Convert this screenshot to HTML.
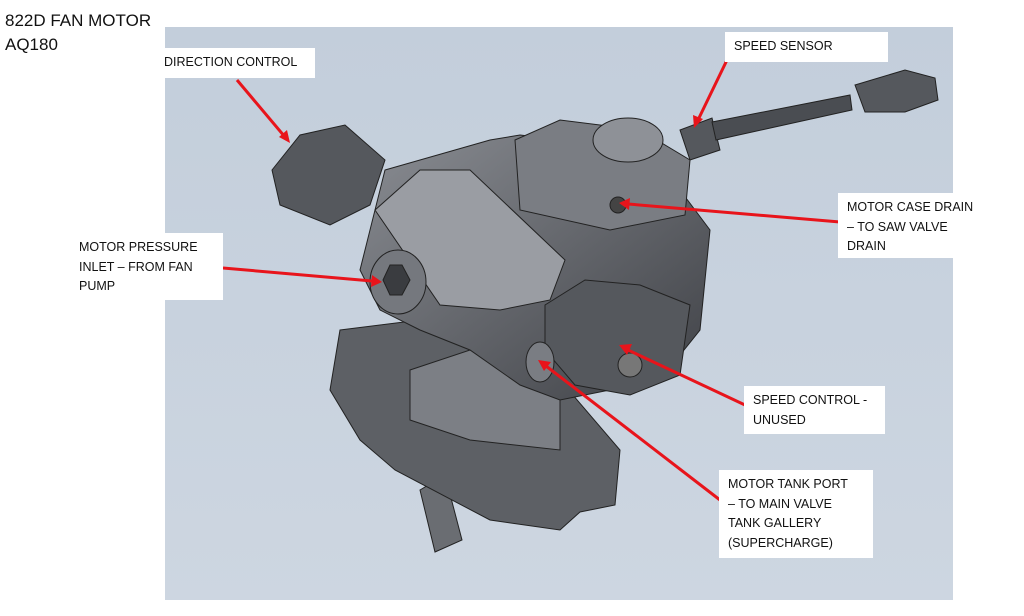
<!DOCTYPE html>
<html><head><meta charset="utf-8"><style>
body{margin:0;width:1024px;height:616px;background:#fff;position:relative;overflow:hidden;font-family:"Liberation Sans",sans-serif}
.t{position:absolute;left:5px;top:9px;font-size:17px;line-height:24px;color:#111}
.l{position:absolute;background:#fff;font-size:12.5px;line-height:19.5px;color:#111;padding:5px 9px;box-sizing:border-box}
svg{position:absolute;left:0;top:0}
</style></head><body>
<div class="t">822D FAN MOTOR<br>AQ180</div>
<svg width="1024" height="616">
<defs><linearGradient id="bg" x1="0" y1="0" x2="0" y2="1"><stop offset="0" stop-color="#c3cedb"/><stop offset="1" stop-color="#cdd6e1"/></linearGradient>
<linearGradient id="m" x1="0" y1="0" x2="1" y2="1"><stop offset="0" stop-color="#8a8d93"/><stop offset="1" stop-color="#3e4045"/></linearGradient></defs>
<rect x="165" y="27" width="788" height="573" fill="url(#bg)"/>
<g stroke="#222" stroke-width="1">
<!-- shaft -->
<polygon points="420,490 445,475 462,540 435,552" fill="#6a6d72"/>
<!-- base plate -->
<polygon points="340,330 420,320 560,380 620,450 615,505 580,512 560,530 490,520 395,470 360,440 330,390" fill="#5d6065"/>
<polygon points="410,370 470,350 560,380 560,450 470,440 410,420" fill="#7c7f85"/>
<!-- body -->
<polygon points="385,170 490,140 520,135 650,150 710,230 700,330 660,380 560,400 520,385 470,350 420,330 380,310 360,270" fill="url(#m)"/>
<polygon points="515,140 560,120 640,130 690,160 685,215 610,230 520,210" fill="#7a7d83"/>
<ellipse cx="628" cy="140" rx="35" ry="22" fill="#8e9197"/>
<!-- tube -->
<polygon points="375,210 420,170 470,170 565,260 550,300 500,310 440,305" fill="#9a9da3"/>
<ellipse cx="398" cy="282" rx="28" ry="32" fill="#75787e"/>
<polygon points="390,265 402,265 410,280 402,295 390,295 383,280" fill="#3a3c40"/>
<!-- direction connector -->
<polygon points="272,170 300,135 345,125 385,160 370,205 330,225 280,205" fill="#55585d"/>
<!-- speed control connector -->
<polygon points="545,305 585,280 640,285 690,305 680,375 630,395 575,385 545,350" fill="#55585d"/>
<circle cx="630" cy="365" r="12" fill="#777"/>
<ellipse cx="540" cy="362" rx="14" ry="20" fill="#7a7d83"/>
<!-- sensor -->
<polygon points="680,130 712,118 720,150 690,160" fill="#55585d"/>
<polygon points="712,122 850,95 852,110 716,140" fill="#4a4d52"/>
<polygon points="855,85 905,70 935,78 938,100 905,112 865,112" fill="#55585d"/>
<circle cx="618" cy="205" r="8" fill="#444"/>
</g>
<g stroke="#e8141b" stroke-width="3" fill="#e8141b">
<line x1="237" y1="80" x2="285" y2="137"/><polygon points="290,143 279,137 287,130" stroke="none"/>
<line x1="727" y1="60" x2="698" y2="120"/><polygon points="694,128 693,115 703,119" stroke="none"/>
<line x1="840" y1="222" x2="628" y2="204"/><polygon points="619,203 630,198 629,210" stroke="none"/>
<line x1="223" y1="268" x2="372" y2="281"/><polygon points="382,282 371,287 372,275" stroke="none"/>
<line x1="745" y1="405" x2="628" y2="350"/><polygon points="619,345 632,344 627,355" stroke="none"/>
<line x1="720" y1="500" x2="546" y2="366"/><polygon points="538,360 551,362 544,371" stroke="none"/>
</g>
</svg>
<div class="l" style="left:155px;top:48px;width:160px;height:30px">DIRECTION CONTROL</div>
<div class="l" style="left:725px;top:32px;width:163px;height:30px">SPEED SENSOR</div>
<div class="l" style="left:838px;top:193px;width:172px;height:65px">MOTOR CASE DRAIN<br>– TO SAW VALVE<br>DRAIN</div>
<div class="l" style="left:70px;top:233px;width:153px;height:67px">MOTOR PRESSURE<br>INLET – FROM FAN<br>PUMP</div>
<div class="l" style="left:744px;top:386px;width:141px;height:48px">SPEED CONTROL -<br>UNUSED</div>
<div class="l" style="left:719px;top:470px;width:154px;height:88px">MOTOR TANK PORT<br>– TO MAIN VALVE<br>TANK GALLERY<br>(SUPERCHARGE)</div>
</body></html>
